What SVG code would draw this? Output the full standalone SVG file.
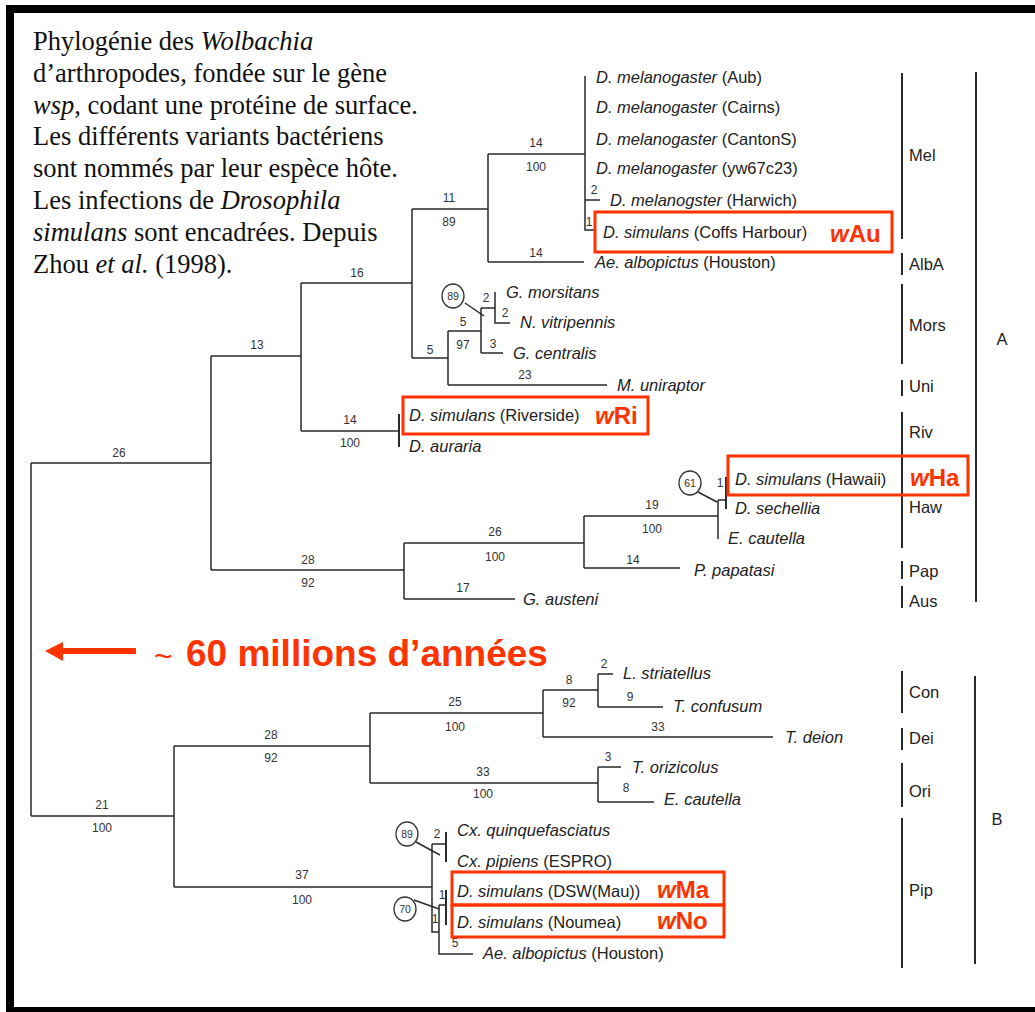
<svg xmlns="http://www.w3.org/2000/svg" width="1035" height="1012" viewBox="0 0 1035 1012">
<style>
.intro{font-family:"Liberation Serif","Times New Roman",serif;font-size:26.5px;fill:#111}
.tx{font-family:"Liberation Sans",Arial,sans-serif;font-size:16.5px;fill:#222}
.it{font-style:italic}
.num{font-family:"Liberation Sans",Arial,sans-serif;font-size:12px;fill:#333;text-anchor:middle}
.cn{font-family:"Liberation Sans",Arial,sans-serif;font-size:10.5px;fill:#333;text-anchor:middle}
.grp{font-family:"Liberation Sans",Arial,sans-serif;font-size:16.5px;fill:#222}
.br{fill:none;stroke:#2a2a2a;stroke-width:1.5}
.bar{fill:none;stroke:#2a2a2a;stroke-width:2}
.ring{fill:none;stroke:#333;stroke-width:1.3}
.box{fill:none;stroke:#FF3300;stroke-width:3}
.w{font-family:"Liberation Sans",Arial,sans-serif;font-size:24px;font-weight:bold;fill:#FF3300}
.red{font-family:"Liberation Sans",Arial,sans-serif;fill:#FF3300}
</style>
<rect x="0" y="0" width="1035" height="1012" fill="#ffffff"/>
<g id="frame" fill="#000">
<rect x="6" y="5" width="1029" height="8"/>
<rect x="6" y="5" width="8" height="1007"/>
<rect x="6" y="1007" width="1029" height="5"/>
</g>
<g id="caption" class="intro">
<text x="33" y="50">Phylogénie des <tspan class="it">Wolbachia</tspan></text>
<text x="33" y="81.8">d’arthropodes, fondée sur le gène</text>
<text x="33" y="113.6"><tspan class="it">wsp</tspan>, codant une protéine de surface.</text>
<text x="33" y="145.4">Les différents variants bactériens</text>
<text x="33" y="177.2">sont nommés par leur espèce hôte.</text>
<text x="33" y="209">Les infections de <tspan class="it">Drosophila</tspan></text>
<text x="33" y="240.8"><tspan class="it">simulans</tspan> sont encadrées. Depuis</text>
<text x="33" y="272.6">Zhou <tspan class="it">et al.</tspan> (1998).</text>
</g>
<g id="connectors">
<path class="br" d="M31 463H211M211 356V570M211 356H301M301 283V431M301 283H412M301 431H399M412 209V358M412 209H488M488 154V262M488 154H585M488 262H584M585 76V230H594M585 200H600M412 358H448M448 331V385M448 385H607M448 331H481M481 308V353M481 353H503M481 308H495M495 292V323H510"/>
<path class="bar" d="M399 414V447"/>
<path class="br" d="M211 570H404M404 543V599M404 543H584M404 599H515M584 516V568M584 568H680M584 516H718M718 500V539M718 500H726"/>
<path class="bar" d="M726 477V509"/>
<path class="br" d="M31 463V816M31 816H174M174 746V887M174 746H370M370 713V783M370 713H543M543 690V737M543 690H598M598 674V707M598 674H613M598 707H663M543 737H773M370 783H598M598 767V802M598 767H621M598 802H654"/>
<path class="br" d="M174 887H432M432 844V932H439M432 844H446M439 905V954H473M439 905H446"/>
<path class="bar" d="M446 832V862M446 890V925"/>
<path class="br" d="M465 303L484 316M698 492L717 502M416 842L440 855M414 900L439 909" stroke-width="1.2"/>
</g>
<g id="branch-labels">
<text class="num" x="119" y="457">26</text>
<text class="num" x="257" y="349">13</text>
<text class="num" x="357" y="277">16</text>
<text class="num" x="449" y="202">11</text>
<text class="num" x="449" y="226">89</text>
<text class="num" x="536" y="147">14</text>
<text class="num" x="536" y="171">100</text>
<text class="num" x="594" y="194">2</text>
<text class="num" x="589" y="226">1</text>
<text class="num" x="536" y="257">14</text>
<text class="num" x="486" y="302">2</text>
<text class="num" x="505" y="317">2</text>
<text class="num" x="463" y="326">5</text>
<text class="num" x="463" y="349">97</text>
<text class="num" x="493" y="348">3</text>
<text class="num" x="430" y="354">5</text>
<text class="num" x="525" y="379">23</text>
<text class="num" x="350" y="424">14</text>
<text class="num" x="350" y="447">100</text>
<text class="num" x="308" y="564">28</text>
<text class="num" x="308" y="587">92</text>
<text class="num" x="495" y="536">26</text>
<text class="num" x="495" y="561">100</text>
<text class="num" x="652" y="509">19</text>
<text class="num" x="652" y="533">100</text>
<text class="num" x="633" y="564">14</text>
<text class="num" x="463" y="592">17</text>
<text class="num" x="720" y="487">1</text>
<text class="num" x="102" y="809">21</text>
<text class="num" x="102" y="832">100</text>
<text class="num" x="271" y="739">28</text>
<text class="num" x="271" y="762">92</text>
<text class="num" x="455" y="706">25</text>
<text class="num" x="455" y="731">100</text>
<text class="num" x="483" y="776">33</text>
<text class="num" x="483" y="798">100</text>
<text class="num" x="569" y="684">8</text>
<text class="num" x="569" y="707">92</text>
<text class="num" x="604" y="668">2</text>
<text class="num" x="630" y="701">9</text>
<text class="num" x="658" y="731">33</text>
<text class="num" x="608" y="761">3</text>
<text class="num" x="626" y="792">8</text>
<text class="num" x="302" y="879">37</text>
<text class="num" x="302" y="904">100</text>
<text class="num" x="437" y="838">2</text>
<text class="num" x="442" y="899">1</text>
<text class="num" x="435" y="923">1</text>
<text class="num" x="455" y="947">5</text>
</g>
<g id="bootstrap-circles">
<ellipse class="ring" cx="453" cy="296" rx="11" ry="12"/><text class="cn" x="453" y="300">89</text>
<ellipse class="ring" cx="690" cy="483" rx="11" ry="12"/><text class="cn" x="690" y="487">61</text>
<ellipse class="ring" cx="407" cy="834" rx="11" ry="12"/><text class="cn" x="407" y="838">89</text>
<ellipse class="ring" cx="405" cy="909" rx="11" ry="12"/><text class="cn" x="405" y="913">70</text>
</g>
<g id="taxa" class="tx">
<text x="596" y="83"><tspan class="it">D. melanogaster</tspan> (Aub)</text>
<text x="596" y="113"><tspan class="it">D. melanogaster</tspan> (Cairns)</text>
<text x="596" y="145"><tspan class="it">D. melanogaster</tspan> (CantonS)</text>
<text x="596" y="174"><tspan class="it">D. melanogaster</tspan> (yw67c23)</text>
<text x="610" y="206"><tspan class="it">D. melanogster</tspan> (Harwich)</text>
<text x="603" y="238"><tspan class="it">D. simulans</tspan> (Coffs Harbour)</text>
<text x="595" y="268"><tspan class="it">Ae. albopictus</tspan> (Houston)</text>
<text class="it" x="506" y="298">G. morsitans</text>
<text class="it" x="520" y="328">N. vitripennis</text>
<text class="it" x="513" y="359">G. centralis</text>
<text class="it" x="617" y="391">M. uniraptor</text>
<text x="409" y="421"><tspan class="it">D. simulans</tspan> (Riverside)</text>
<text class="it" x="409" y="452">D. auraria</text>
<text x="735" y="485"><tspan class="it">D. simulans</tspan> (Hawaii)</text>
<text class="it" x="735" y="514">D. sechellia</text>
<text class="it" x="728" y="544">E. cautella</text>
<text class="it" x="694" y="576">P. papatasi</text>
<text class="it" x="523" y="605">G. austeni</text>
<text class="it" x="623" y="679">L. striatellus</text>
<text class="it" x="673" y="712">T. confusum</text>
<text class="it" x="785" y="743">T. deion</text>
<text class="it" x="632" y="773">T. orizicolus</text>
<text class="it" x="664" y="805">E. cautella</text>
<text class="it" x="457" y="836">Cx. quinquefasciatus</text>
<text x="457" y="867"><tspan class="it">Cx. pipiens</tspan> (ESPRO)</text>
<text x="457" y="897"><tspan class="it">D. simulans</tspan> (DSW(Mau))</text>
<text x="457" y="928"><tspan class="it">D. simulans</tspan> (Noumea)</text>
<text x="483" y="959"><tspan class="it">Ae. albopictus</tspan> (Houston)</text>
</g>
<g id="groups">
<path class="bar" d="M902 73V239M902 253V275M902 284V364M902 380V396M902 412V548M902 561V579M902 586V608M902 671V713M902 728V750M902 763V807M902 818V968M976 72V602M975 676V964"/>
<text class="grp" x="909" y="161">Mel</text>
<text class="grp" x="909" y="270">AlbA</text>
<text class="grp" x="909" y="331">Mors</text>
<text class="grp" x="909" y="392">Uni</text>
<text class="grp" x="909" y="438">Riv</text>
<text class="grp" x="909" y="513">Haw</text>
<text class="grp" x="909" y="577">Pap</text>
<text class="grp" x="909" y="607">Aus</text>
<text class="grp" x="909" y="698">Con</text>
<text class="grp" x="909" y="744">Dei</text>
<text class="grp" x="909" y="797">Ori</text>
<text class="grp" x="909" y="896">Pip</text>
<text class="grp" x="1002" y="345" text-anchor="middle">A</text>
<text class="grp" x="997" y="825" text-anchor="middle">B</text>
</g>
<g id="simulans-boxes">
<rect class="box" x="595" y="212" width="297" height="40"/>
<text class="w" x="830" y="241.5"><tspan font-style="italic">w</tspan>Au</text>
<rect class="box" x="403" y="397" width="245" height="37"/>
<text class="w" x="595" y="424"><tspan font-style="italic">w</tspan>Ri</text>
<rect class="box" x="728" y="456" width="240" height="39"/>
<text class="w" x="910" y="486"><tspan font-style="italic">w</tspan>Ha</text>
<rect class="box" x="452" y="872" width="272" height="33"/>
<text class="w" x="657" y="897.5"><tspan font-style="italic">w</tspan>Ma</text>
<rect class="box" x="452" y="905" width="272" height="32"/>
<text class="w" x="657" y="928.5"><tspan font-style="italic">w</tspan>No</text>
</g>
<g id="timescale">
<polygon points="45,651 63,642 63,661" fill="#FF3300"/>
<rect x="62" y="648" width="74" height="6" fill="#FF3300"/>
<text class="red" x="154" y="667" font-size="32">~</text>
<text class="red" x="186" y="666" font-size="37" font-weight="bold">60 millions d’années</text>
</g>
</svg>
